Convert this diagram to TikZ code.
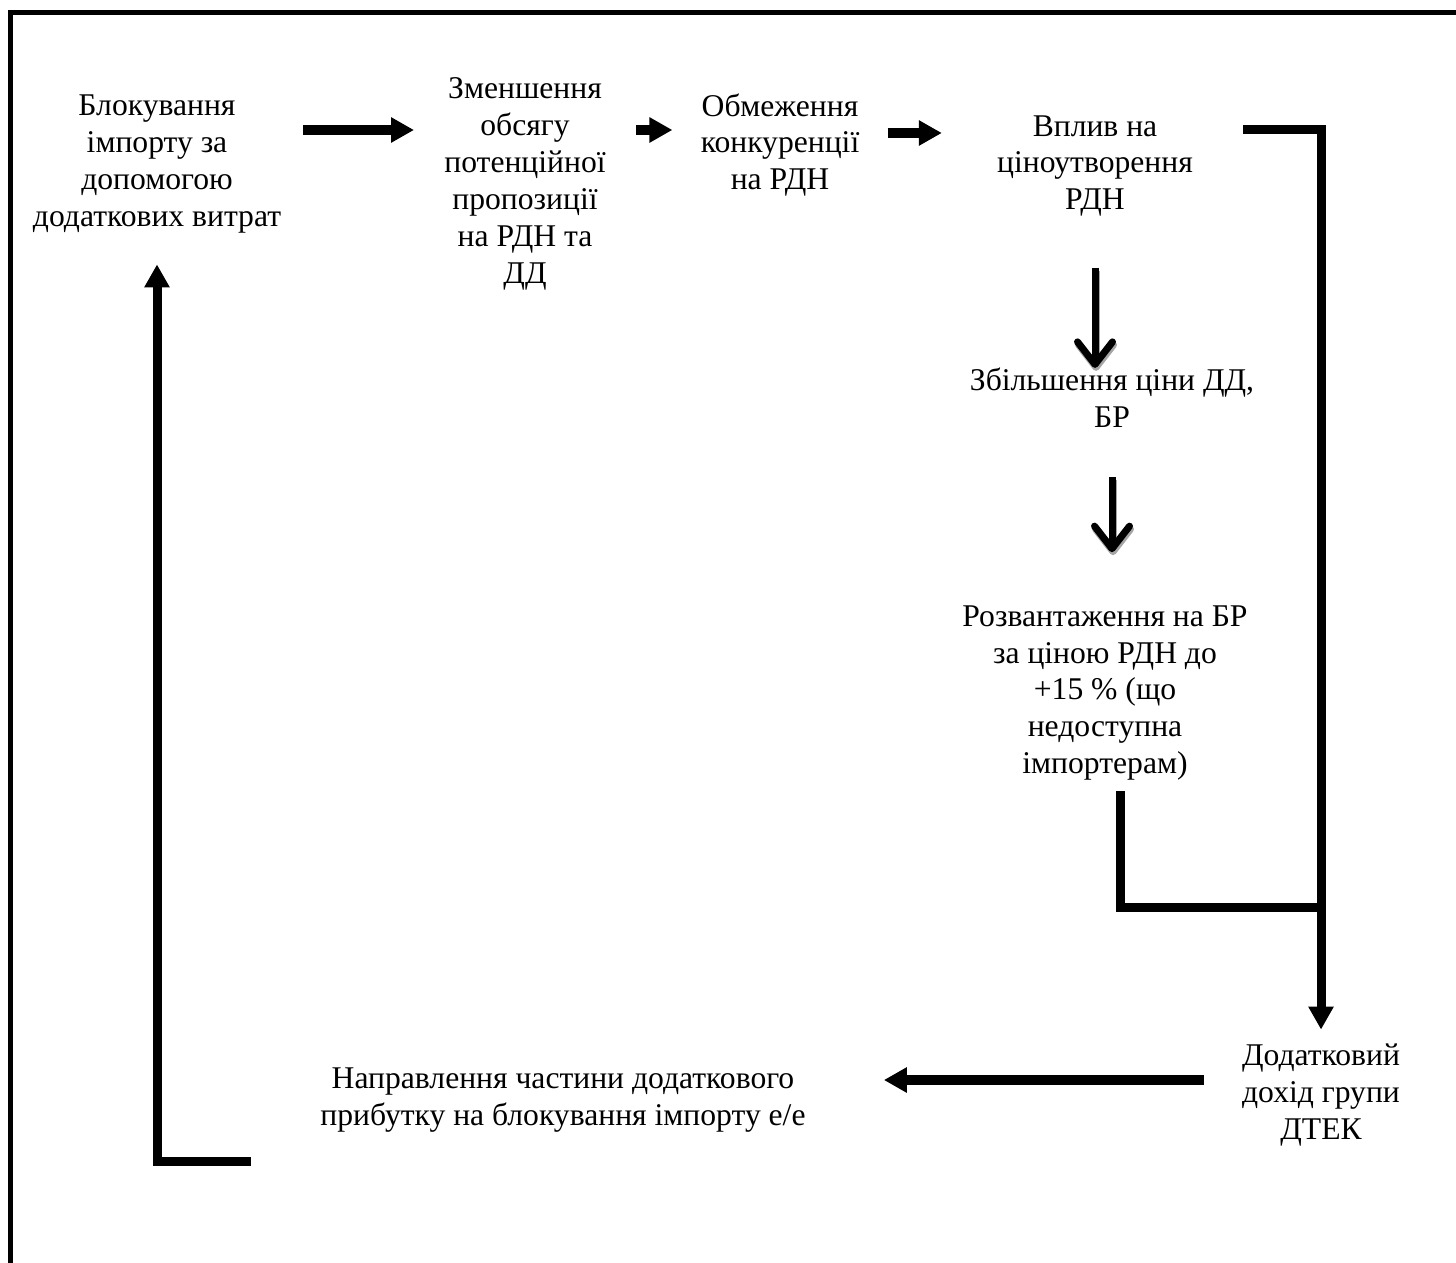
\documentclass[tikz,border=0pt]{standalone}
\usepackage{fontspec}
\setmainfont{Liberation Serif}
\usetikzlibrary{arrows.meta,positioning}

\begin{document}
\begin{tikzpicture}[x=0.02cm, y=-0.02cm,
    lbl/.style={align=center, inner sep=0pt, font=\fontsize{18}{21}\selectfont},
    harrow/.style={-{Triangle[length=0.46cm, width=0.48cm]}, line width=0.19cm},
    link/.style={line width=0.18cm},
    barb/.style={-{Straight Barb[length=0.45cm, width=0.7cm, round]}, line width=0.14cm,
                 preaction={draw=gray!70, -{Straight Barb[length=0.45cm, width=0.7cm, round]},
                            line width=0.14cm, transform canvas={shift={(0.02cm,-0.06cm)}}}}
]
    \useasboundingbox (0,0) rectangle (1456,1263);
    % frame
    \draw[line width=0.1cm] (10.5,1290) -- (10.5,12.5) -- (1480,12.5);

    \node[lbl] (blok) at (157,164) {Блокування\\імпорту за\\допомогою\\додаткових витрат};
    \node[lbl] (zmen) at (525,184) {Зменшення\\обсягу\\потенційної\\пропозиції\\на РДН та\\ДД};
    \node[lbl] (obmezh) at (780,145) {Обмеження\\конкуренції\\на РДН};
    \node[lbl] (vplyv) at (1095,166) {Вплив на\\ціноутворення\\РДН};
    \node[lbl] (zbil) at (1112,398) {Збільшення ціни ДД,\\БР};
    \node[lbl] (rozv) at (1105,693) {Розвантаження на БР\\за ціною РДН до\\+15 \% (що\\недоступна\\імпортерам)};
    \node[lbl] (dohid) at (1321,1095) {Додатковий\\дохід групи\\ДТЕК};
    \node[lbl] (naprav) at (563,1100) {Направлення частини додаткового\\прибутку на блокування імпорту е/е};

    \coordinate (top) at (0,130);
    \coordinate (topb) at (0,133);
    \coordinate (join) at (1322,907);
    \coordinate (back) at (0,1080);
    \coordinate (low) at (0,1161);

    % top row
    \draw[harrow, shorten <=0.44cm, shorten >=0.6cm] (blok.east |- top) -- (zmen.west |- top);
    \draw[harrow, shorten <=0.6cm, shorten >=0.56cm] (zmen.east |- top) -- (obmezh.west |- top);
    \draw[harrow, shorten <=0.56cm, shorten >=1.1cm] (obmezh.east |- topb) -- (vplyv.west |- topb);

    % right column
    \draw[barb, shorten <=1.02cm, shorten >=0cm] (vplyv.south) -- (vplyv.south |- zbil.north);
    \draw[barb, shorten <=0.98cm, shorten >=1.06cm] (zbil.south) -- (zbil.south |- rozv.north);
    \draw[link, -{Triangle[length=0.46cm, width=0.48cm]}, shorten <=1cm, shorten >=0.28cm]
        (vplyv.east |- top) -| (dohid.north);
    \draw[link, shorten <=0.2cm] ([xshift=0.3cm]rozv.south) |- (join);

    % way back
    \draw[harrow, shorten <=0.76cm, shorten >=1.56cm] (dohid.west |- back) -- (naprav.east |- back);
    \draw[link, -{Triangle[length=0.46cm, width=0.48cm]}, shorten <=1.38cm, shorten >=0.62cm]
        (naprav.west |- low) -| (blok.south);
\end{tikzpicture}
\end{document}
